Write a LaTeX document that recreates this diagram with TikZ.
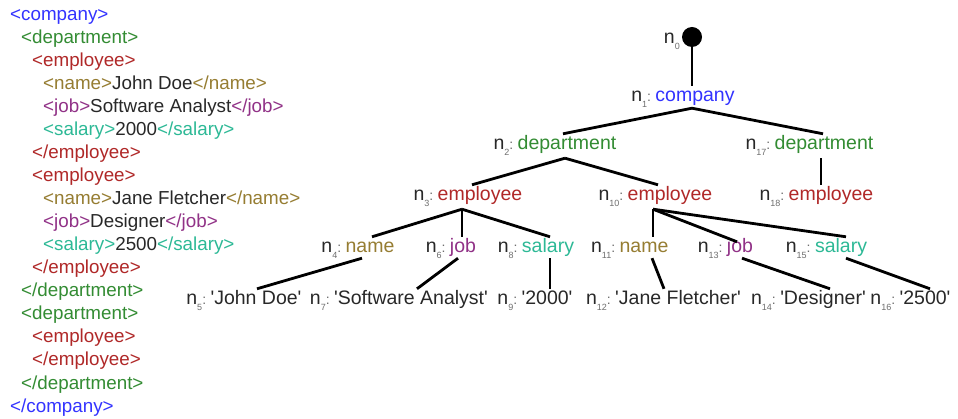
\documentclass[tikz,border=0pt]{standalone}
\usepackage{fontspec}
\setmainfont{Liberation Sans}
\definecolor{cblue}{RGB}{51,51,255}
\definecolor{cgreen}{RGB}{51,140,51}
\definecolor{cred}{RGB}{176,40,40}
\definecolor{cgold}{RGB}{150,125,50}
\definecolor{cpurple}{RGB}{145,50,135}
\definecolor{cteal}{RGB}{45,185,150}
\definecolor{ngray}{RGB}{40,40,40}
\definecolor{subgray}{RGB}{110,110,110}
\newcommand\q{\textquotesingle}
\newcommand\nlab[1]{n\raisebox{-0.3em}{\fontsize{9}{9}\selectfont\textcolor{subgray}{#1}}\textcolor{subgray}{\fontsize{14}{14}\selectfont:}}
\newcommand\nzero{n\raisebox{-0.3em}{\fontsize{9}{9}\selectfont\textcolor{subgray}{0}}}
\tikzset{
  xml/.style={anchor=base west, inner sep=0pt, font=\fontsize{18.8}{18.8}\selectfont, text=ngray},
  word/.style={anchor=base, inner sep=0pt, text height=16pt, text depth=8pt, font=\fontsize{19.5}{19.5}\selectfont, text=ngray},
  lab/.style={anchor=base east, inner sep=0pt, font=\fontsize{19.5}{19.5}\selectfont, text=ngray},
  edge/.style={line width=2.8pt, black},
}
\begin{document}
\begin{tikzpicture}[x=1pt,y=-1pt]
\useasboundingbox[fill=white] (0,0) rectangle (958,419);
% XML listing
\node[xml] (x0)  at (10,21)  {\textcolor{cblue}{<company>}};
\node[xml] (x1)  at (21,44)  {\textcolor{cgreen}{<department>}};
\node[xml] (x2)  at (32,67)  {\textcolor{cred}{<employee>}};
\node[xml] (x3)  at (43,90)  {\textcolor{cgold}{<name>}John Doe\textcolor{cgold}{</name>}};
\node[xml] (x4)  at (43,113) {\textcolor{cpurple}{<job>}Software Analyst\textcolor{cpurple}{</job>}};
\node[xml] (x5)  at (43,136) {\textcolor{cteal}{<salary>}2000\textcolor{cteal}{</salary>}};
\node[xml] (x6)  at (32,159) {\textcolor{cred}{</employee>}};
\node[xml] (x7)  at (32,182) {\textcolor{cred}{<employee>}};
\node[xml] (x8)  at (43,205) {\textcolor{cgold}{<name>}Jane Fletcher\textcolor{cgold}{</name>}};
\node[xml] (x9)  at (43,228) {\textcolor{cpurple}{<job>}Designer\textcolor{cpurple}{</job>}};
\node[xml] (x10) at (43,251) {\textcolor{cteal}{<salary>}2500\textcolor{cteal}{</salary>}};
\node[xml] (x11) at (32,274) {\textcolor{cred}{</employee>}};
\node[xml] (x12) at (21,297) {\textcolor{cgreen}{</department>}};
\node[xml] (x13) at (21,320) {\textcolor{cgreen}{<department>}};
\node[xml] (x14) at (32,343) {\textcolor{cred}{<employee>}};
\node[xml] (x15) at (32,366) {\textcolor{cred}{</employee>}};
\node[xml] (x16) at (21,389) {\textcolor{cgreen}{</department>}};
\node[xml] (x17) at (10,412) {\textcolor{cblue}{</company>}};
% tree
\node[circle, fill=black, inner sep=0pt, minimum size=20pt] (dot) at (692,37) {};
\node[lab] (l0) at (680,44) {\nzero};
\node[word] (t1)  at (695,102) {\textcolor{cblue}{company}};
\node[word] (t2)  at (567,150) {\textcolor{cgreen}{department}};
\node[word] (t17) at (824,150) {\textcolor{cgreen}{department}};
\node[word] (t3)  at (480,201) {\textcolor{cred}{employee}};
\node[word] (t10) at (670,201) {\textcolor{cred}{employee}};
\node[word] (t18) at (831,201) {\textcolor{cred}{employee}};
\node[word] (t4)  at (370,253) {\textcolor{cgold}{name}};
\node[word] (t6)  at (463,253) {\textcolor{cpurple}{job}};
\node[word] (t8)  at (548,253) {\textcolor{cteal}{salary}};
\node[word] (t11) at (644,253) {\textcolor{cgold}{name}};
\node[word] (t13) at (740,253) {\textcolor{cpurple}{job}};
\node[word] (t15) at (841,253) {\textcolor{cteal}{salary}};
\node[word] (t5)  at (256,305) {\q John Doe\q};
\node[word] (t7)  at (411,305) {\q Software Analyst\q};
\node[word] (t9)  at (547,305) {\q 2000\q};
\node[word] (t12) at (678,305) {\q Jane Fletcher\q};
\node[word] (t14) at (823,305) {\q Designer\q};
\node[word] (t16) at (925,305) {\q 2500\q};
\foreach \k in {1,2,3,4,5,6,7,8,9,10,11,12,13,14,15,16,17,18}
  \node[lab] (l\k) at ([xshift=-4pt]t\k.base west) {\nlab{\k}};
% connectors
\draw[edge] (dot) -- ([xshift=-3pt]t1.north);
\draw[edge] ([xshift=-3pt,yshift=2pt]t1.south) -- ([xshift=-4pt]t2.north);
\draw[edge] ([xshift=-3pt,yshift=2pt]t1.south) -- ([xshift=-1pt]t17.north);
\draw[edge] ([xshift=-2pt]t2.south) -- ([xshift=-8pt]t3.north);
\draw[edge] ([xshift=-2pt]t2.south) -- ([xshift=-12pt]t10.north);
\draw[edge] ([xshift=-3pt]t17.south) -- ([xshift=-10pt]t18.north);
\draw[edge] ([xshift=-18pt]t3.south) -- ([xshift=2pt]t4.north);
\draw[edge] ([xshift=-18pt]t3.south) -- ([xshift=-1pt]t6.north);
\draw[edge] ([xshift=-18pt]t3.south) -- ([xshift=2pt]t8.north);
\draw[edge] ([xshift=-8pt,yshift=3pt]t4.south) -- ([xshift=1pt]t5.north);
\draw[edge] ([xshift=-5pt,yshift=3pt]t6.south) -- ([xshift=6pt]t7.north);
\draw[edge] ([xshift=2pt,yshift=3pt]t8.south) -- ([xshift=3pt]t9.north);
\draw[edge] ([xshift=-17pt]t10.south) -- ([xshift=9pt]t11.north);
\draw[edge] ([xshift=-17pt]t10.south) -- ([xshift=-3pt,yshift=-5pt]t13.north);
\draw[edge] ([xshift=-17pt]t10.south) -- ([xshift=5pt]t15.north);
\draw[edge] ([xshift=8pt,yshift=3pt]t11.south) -- ([xshift=-14pt]t12.north);
\draw[edge] ([xshift=2pt,yshift=3pt]t13.south) -- ([xshift=7pt]t14.north);
\draw[edge] ([xshift=5pt,yshift=3pt]t15.south) -- ([xshift=5pt]t16.north);
\end{tikzpicture}
\end{document}
